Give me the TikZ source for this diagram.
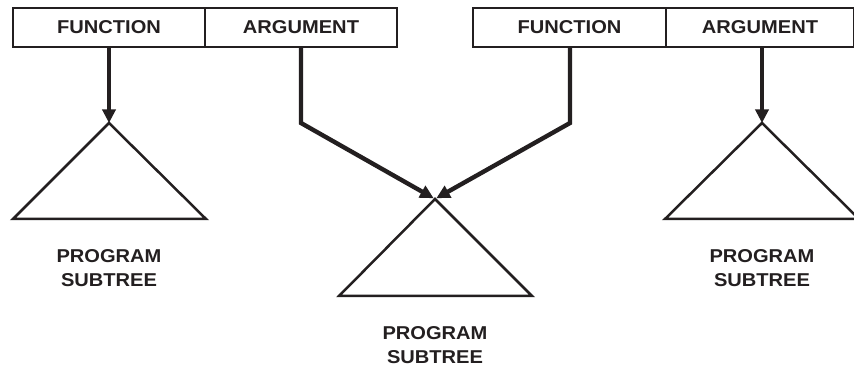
\documentclass[tikz,border=0pt]{standalone}
\usepackage{fontspec}
\setmainfont{Liberation Sans}
\newfontfamily\labfont[FakeStretch=1.08]{Liberation Sans}
\usetikzlibrary{arrows.meta}
\definecolor{ink}{HTML}{231F20}
\begin{document}
\begin{tikzpicture}[x=1pt,y=-1pt,
  labeltext/.style={font=\labfont\bfseries\fontsize{18.6}{24}\selectfont, text=ink},
  cell/.style={draw=ink, line width=1.8pt, minimum height=39pt, inner sep=0pt, labeltext},
  link/.style={draw=ink, line width=4.4pt, line join=miter, -{Triangle[length=13.5pt,width=13pt]}},
  tree/.style={draw=ink, line width=2.5pt, line join=miter},
  caption/.style={align=center, inner sep=0pt, labeltext}]
\useasboundingbox (0,0) rectangle (854,371);
\clip (0,0) rectangle (854,371);

% two function/argument records
\node[cell, minimum width=192pt] (func1) at (109,27.5) {FUNCTION};
\node[cell, minimum width=192pt] (arg1)  at (301,27.5) {ARGUMENT};
\node[cell, minimum width=193pt] (func2) at (569.5,27.5) {FUNCTION};
\node[cell, minimum width=188pt] (arg2)  at (760,27.5) {ARGUMENT};

% subtree apexes and bends
\coordinate (apex1) at (109,123);
\coordinate (apex2) at (435,199);
\coordinate (apex3) at (762,123);
\coordinate (bend1) at (301,123);
\coordinate (bend2) at (570,123);

% program subtrees
\draw[tree] (apex1) -- (13,219) -- (206,219) -- cycle;
\draw[tree] (apex2) -- (339,296) -- (532,296) -- cycle;
\draw[tree] (apex3) -- (665,219) -- (859,219) -- cycle;

% pointers
\draw[link] (func1.south) -- (apex1);
\draw[link, shorten >=1.5pt] (arg1.south -| bend1) -- (bend1) -- (apex2);
\draw[link, shorten >=1.5pt] (func2.south -| bend2) -- (bend2) -- (apex2);
\draw[link] (arg2.south -| apex3) -- (apex3);

% captions
\node[caption] (cap1) at (109,268) {PROGRAM\\SUBTREE};
\node[caption] (cap2) at (435,345) {PROGRAM\\SUBTREE};
\node[caption] (cap3) at (762,268) {PROGRAM\\SUBTREE};
\end{tikzpicture}
\end{document}
